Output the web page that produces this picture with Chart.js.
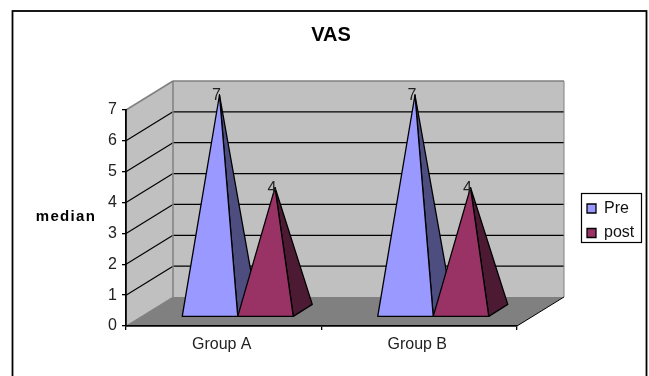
<!DOCTYPE html>
<html>
<head>
<meta charset="utf-8">
<style>
  html, body { margin: 0; padding: 0; background: #fff; }
  #wrap { width: 649px; height: 376px; }
</style>
<script src="https://cdn.jsdelivr.net/npm/chart.js@4"></script>
</head>
<body>
<div id="wrap"><canvas id="chart" width="649" height="376"></canvas></div>
<script>
const categories = ['Group A', 'Group B'];
const preValues = [7, 7];
const postValues = [4, 4];
const yTicks = [0, 1, 2, 3, 4, 5, 6, 7];

const FONT = '"Liberation Sans", Arial, sans-serif';
// oblique depth of the fake 3D box
const DEPTH_X = 47, DEPTH_Y = 29;
// where the pyramids sit inside that depth
const FRONT_X = 14, FRONT_Y = 9, BACK_X = 33, BACK_Y = 21;

function poly(ctx, pts, fill, stroke, lw) {
  ctx.beginPath();
  pts.forEach((p, i) => i ? ctx.lineTo(p[0], p[1]) : ctx.moveTo(p[0], p[1]));
  ctx.closePath();
  if (fill) { ctx.fillStyle = fill; ctx.fill(); }
  if (stroke) { ctx.strokeStyle = stroke; ctx.lineWidth = lw; ctx.stroke(); }
}

function line(ctx, x1, y1, x2, y2, color, lw) {
  ctx.beginPath();
  ctx.moveTo(x1, y1);
  ctx.lineTo(x2, y2);
  ctx.strokeStyle = color;
  ctx.lineWidth = lw;
  ctx.stroke();
}

const box3d = {
  id: 'box3d',
  afterLayout(chart) {
    // title and legend do not sit where the layout wants them
    const t = chart.titleBlock;
    t.left = 0; t.right = 662; t.top = 23; t.bottom = t.top + t.height;
    const l = chart.legend;
    // bottom is left roomy, otherwise the legend tries to wrap into a second column
    l.left = 578.5; l.right = l.left + 60; l.top = 192; l.bottom = 300;
  },
  beforeDraw(chart) {
    const ctx = chart.ctx, a = chart.chartArea, y = chart.scales.y;
    ctx.save();
    ctx.fillStyle = '#fff';
    ctx.fillRect(0, 0, chart.width, chart.height);
    ctx.strokeStyle = '#000';
    ctx.lineWidth = 1.8;
    ctx.strokeRect(12.5, 11, 634, 400);
    // legend frame
    ctx.lineWidth = 1.2;
    ctx.strokeRect(581.5, 193.5, 60, 49);

    const bl = a.left + DEPTH_X, br = a.right + DEPTH_X;
    const top = a.top - DEPTH_Y, bot = a.bottom - DEPTH_Y;
    poly(ctx, [[a.left, a.top], [bl, top], [bl, bot], [a.left, a.bottom]], '#c0c0c0');
    poly(ctx, [[bl, top], [br, top], [br, bot], [bl, bot]], '#c0c0c0');
    poly(ctx, [[a.left, a.bottom], [a.right, a.bottom], [br, bot], [bl, bot]], '#808080');
    yTicks.forEach(v => {
      if (v === 0 || v === 7) return;
      const py = y.getPixelForValue(v);
      line(ctx, a.left, py, bl, py - DEPTH_Y, '#000', 1.2);
      line(ctx, bl, py - DEPTH_Y, br, py - DEPTH_Y, '#000', 1.2);
    });
    // wall outlines are grey
    line(ctx, a.left, a.top, bl, top, '#808080', 1.5);
    line(ctx, bl, top, br, top, '#808080', 1.5);
    line(ctx, br, top, br, bot, '#808080', 1);
    line(ctx, bl, top, bl, bot, '#808080', 1.5);
    line(ctx, a.left, a.bottom, bl, bot, '#808080', 1);
    line(ctx, a.right, a.bottom, br, bot, '#000', 1);
    ctx.restore();
  },
  beforeDatasetDraw() {
    // plain bars are replaced by the pyramids below
    return false;
  },
  afterDatasetsDraw(chart) {
    const ctx = chart.ctx;
    ctx.save();
    ctx.lineJoin = 'round';
    // swap each bar for a pyramid on the same bar geometry, Pre first so post overlaps it
    chart.data.datasets.forEach((ds, i) => {
      chart.getDatasetMeta(i).data.forEach(bar => {
        const half = bar.width / 2;
        const fy = bar.base - FRONT_Y;
        const fl = [bar.x - half + FRONT_X, fy];
        const fr = [bar.x + half + FRONT_X, fy];
        const br = [bar.x + half + BACK_X, bar.base - BACK_Y];
        const apex = [bar.x + (FRONT_X + BACK_X) / 2, bar.y - (FRONT_Y + BACK_Y) / 2];
        poly(ctx, [apex, fr, br], ds.sideColor, '#000', 1.3);
        poly(ctx, [apex, fl, fr], ds.backgroundColor, '#000', 1.3);
      });
    });
    ctx.font = '16px ' + FONT;
    ctx.fillStyle = '#222';
    ctx.textAlign = 'center';
    ctx.textBaseline = 'middle';
    chart.data.datasets.forEach((ds, i) => {
      chart.getDatasetMeta(i).data.forEach((bar, j) => {
        ctx.fillText(String(ds.data[j]), bar.x + (FRONT_X + BACK_X) / 2 - 3, bar.y - (FRONT_Y + BACK_Y) / 2 + 1);
      });
    });
    // axis title stays horizontal, so not the scale's own title
    ctx.font = 'bold 15px ' + FONT;
    ctx.letterSpacing = '1.3px';
    ctx.fillStyle = '#000';
    ctx.fillText('median', 66, 217);
    ctx.restore();
  }
};

new Chart(document.getElementById('chart'), {
  type: 'bar',
  data: {
    labels: categories,
    datasets: [
      { label: 'Pre', data: preValues, backgroundColor: '#9999ff', sideColor: '#4d4d80', borderColor: '#000', borderWidth: 1.3 },
      { label: 'post', data: postValues, backgroundColor: '#993366', sideColor: '#4d1a33', borderColor: '#000', borderWidth: 1.3 }
    ]
  },
  options: {
    responsive: false,
    animation: false,
    layout: { padding: { left: 90, right: 132, top: 86, bottom: 0 } },
    datasets: { bar: { categoryPercentage: 0.568, barPercentage: 1 } },
    plugins: {
      title: {
        display: true,
        text: 'VAS',
        color: '#000',
        font: { family: FONT, size: 20, weight: 'bold' },
        padding: 0
      },
      legend: {
        position: 'chartArea',
        align: 'start',
        labels: {
          color: '#111',
          font: { family: FONT, size: 16 },
          boxWidth: 9,
          boxHeight: 9,
          padding: 8.5
        }
      },
      tooltip: { enabled: false }
    },
    scales: {
      x: {
        afterFit(s) { s.height = 50; },
        grid: { offset: true, drawOnChartArea: false, drawTicks: true, tickLength: 4, color: '#000', lineWidth: 1.3 },
        border: { color: '#000', width: 1.8 },
        ticks: { color: '#222', font: { family: FONT, size: 16 }, padding: 5, labelOffset: -2, maxRotation: 0 }
      },
      y: {
        min: 0,
        max: 7,
        afterFit(s) { s.width = 36; },
        afterBuildTicks(s) { s.ticks = yTicks.map(v => ({ value: v })); },
        grid: { drawOnChartArea: false, drawTicks: true, tickLength: 4, color: '#000', lineWidth: 1.3 },
        border: { color: '#000', width: 1.8 },
        ticks: { color: '#222', font: { family: FONT, size: 16 }, padding: 5 }
      }
    }
  },
  plugins: [box3d]
});
</script>
</body>
</html>
